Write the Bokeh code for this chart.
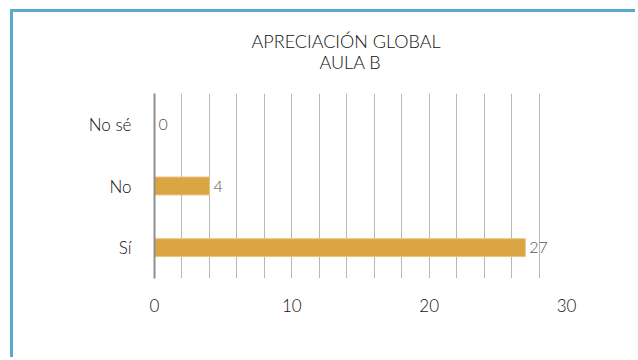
from bokeh.plotting import figure
from bokeh.models import FactorRange, Range1d, FixedTicker, Title, ColumnDataSource
from bokeh.embed import file_html
from bokeh.resources import INLINE
from bokeh.core.properties import value

categories = ["Sí", "No", "No sé"]
counts = [27, 4, 0]
count_labels = ["27", "4", "0"]
x_ticks = [0, 10, 20, 30]
grid_ticks = [0, 2, 4, 6, 8, 10, 12, 14, 16, 18, 20, 22, 24, 26, 28, 30]
title_lines = ["APRECIACIÓN GLOBAL", "AULA B"]

FONT = "Lato Light"
BAR = "#DCA543"
TXT = "#111111"

src = ColumnDataSource(dict(cat=categories, val=counts, lab=count_labels))

p = figure(width=625, height=348, y_range=FactorRange(factors=categories),
           x_range=Range1d(0, 30), output_backend="svg", toolbar_location=None,
           min_border_left=141, min_border_right=72, min_border_top=81, min_border_bottom=82)
p.styles = {"margin-left": "10px", "margin-top": "9px",
            "border-left": "3px solid #5AAAD0", "border-top": "3px solid #5AAAD0"}
p.outline_line_color = None
p.background_fill_color = "white"
p.border_fill_color = "white"

p.hbar(y="cat", right="val", left=0, height=0.29, source=src, fill_color=BAR,
       line_color="#E8C27C", line_width=1)
p.text(x="val", y="cat", text="lab", source=src, x_offset=4, text_baseline="middle",
       text_align="left", text_font=value(FONT), text_font_size="16px", text_color="#555555")

p.xgrid.ticker = FixedTicker(ticks=grid_ticks)
p.xgrid.grid_line_color = "#B8B8B8"
p.xgrid.grid_line_width = 1
p.ygrid.grid_line_color = None

p.xaxis.ticker = FixedTicker(ticks=x_ticks)
p.xaxis.axis_line_color = None
p.xaxis.major_tick_line_color = None
p.xaxis.minor_tick_line_color = None
p.xaxis.major_label_standoff = 14
p.xaxis.major_label_text_font = FONT
p.xaxis.major_label_text_font_size = "17px"
p.xaxis.major_label_text_font_style = "normal"
p.xaxis.major_label_text_color = TXT

p.yaxis.axis_line_color = "#8E8E8E"
p.yaxis.axis_line_width = 2
p.yaxis.major_tick_line_color = None
p.yaxis.minor_tick_line_color = None
p.yaxis.major_label_standoff = 17
p.yaxis.major_label_text_font = FONT
p.yaxis.major_label_text_font_size = "17px"
p.yaxis.major_label_text_color = TXT

# titles: the last one added sits on top
p.add_layout(Title(text=title_lines[1], align="left", offset=165, standoff=42,
                   text_font=FONT, text_font_size="18px", text_font_style="normal",
                   text_color=TXT), "above")
p.add_layout(Title(text=title_lines[0], align="left", offset=97, standoff=-49,
                   text_font=FONT, text_font_size="18px", text_font_style="normal",
                   text_color=TXT), "above")

open("out.html", "w").write(file_html(p, INLINE))
